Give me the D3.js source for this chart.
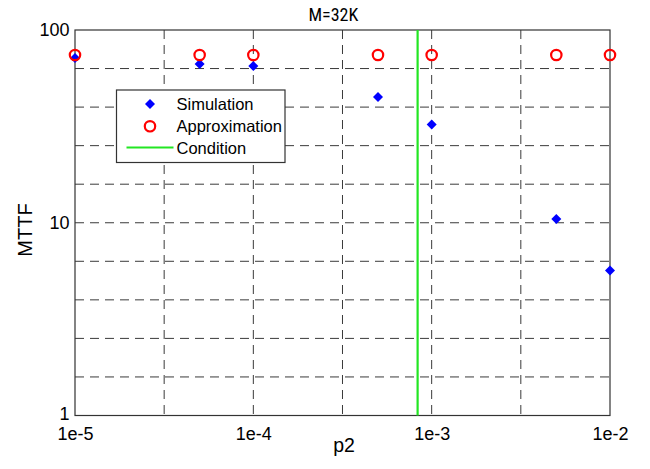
<!DOCTYPE html>
<html>
<head>
<meta charset="utf-8">
<script src="https://cdn.jsdelivr.net/npm/d3@7"></script>
<style>
    body { margin: 0; background: #fff; }
    text { font-family: "Liberation Sans", Arial, sans-serif; fill: #000; }
</style>
</head>
<body>
<script>
//chart data
var p2 = [1e-5, 5e-5, 1e-4, 5e-4, 1e-3, 5e-3, 1e-2];
var simulation = [71.5, 66.6, 65.0, 44.9, 32.3, 10.45, 5.66];
var approximation = [74.2, 74.2, 74.2, 74.2, 74.2, 74.2, 74.2];
var condition = 8.34e-4;

//ticks and grid
var xTickValues = [1e-5, 1e-4, 1e-3, 1e-2];
var xTickLabels = ["1e-5", "1e-4", "1e-3", "1e-2"];
var yTickValues = [1, 10, 100];
var yTickLabels = ["1", "10", "100"];
var xGrid = [3.162e-5, 1e-4, 3.162e-4, 1e-3, 3.162e-3];
var yGrid = [1.585, 2.512, 3.981, 6.310, 10, 15.85, 25.12, 39.81, 63.10];

var legendItems = ["Simulation", "Approximation", "Condition"];

window.onload = setChart();

function setChart(){

    var width = 650,
        height = 469;

    var left = 75, right = 610, top = 30, bottom = 415.5;

    var svg = d3.select("body")
        .append("svg")
        .attr("width", width)
        .attr("height", height);

    var x = d3.scaleLog()
        .domain([1e-5, 1e-2])
        .range([left, right]);

    var y = d3.scaleLog()
        .domain([1, 100])
        .range([bottom, top]);

    //dashed grid
    svg.selectAll(".vgrid")
        .data(xGrid)
        .enter()
        .append("line")
        .attr("class", "vgrid")
        .attr("x1", function(d){ return x(d); })
        .attr("x2", function(d){ return x(d); })
        .attr("y1", top)
        .attr("y2", bottom)
        .attr("stroke", "#3a3a3a")
        .attr("stroke-width", 1)
        .attr("stroke-dasharray", "9,6");

    svg.selectAll(".hgrid")
        .data(yGrid)
        .enter()
        .append("line")
        .attr("class", "hgrid")
        .attr("x1", left)
        .attr("x2", right)
        .attr("y1", function(d){ return y(d); })
        .attr("y2", function(d){ return y(d); })
        .attr("stroke", "#3a3a3a")
        .attr("stroke-width", 1)
        .attr("stroke-dasharray", "9,6");

    //axis box
    svg.append("rect")
        .attr("x", left)
        .attr("y", top)
        .attr("width", right - left)
        .attr("height", bottom - top)
        .attr("fill", "none")
        .attr("stroke", "#333")
        .attr("stroke-width", 1.2);

    //tick labels
    var xAxis = svg.append("g")
        .attr("transform", "translate(0," + (bottom + 1.5) + ")")
        .call(d3.axisBottom(x)
            .tickValues(xTickValues)
            .tickFormat(function(d, i){ return xTickLabels[i]; })
            .tickSize(0)
            .tickPadding(10.5));
    xAxis.select(".domain").remove();
    xAxis.selectAll("text")
        .style("font-family", "'Liberation Sans', Arial, sans-serif")
        .style("font-size", "18px")
        .attr("fill", "#000");

    var yAxis = svg.append("g")
        .attr("transform", "translate(" + left + ",0)")
        .call(d3.axisLeft(y)
            .tickValues(yTickValues)
            .tickFormat(function(d, i){ return yTickLabels[i]; })
            .tickSize(0)
            .tickPadding(5.5));
    yAxis.select(".domain").remove();
    yAxis.selectAll("text")
        .style("font-family", "'Liberation Sans', Arial, sans-serif")
        .style("font-size", "18px")
        .attr("fill", "#000")
        .attr("y", function(d){ return d === 1 ? -2 : 0; });

    //axis titles
    svg.append("text")
        .attr("x", 344)
        .attr("y", 452)
        .attr("text-anchor", "middle")
        .style("font-size", "19.5px")
        .text("p2");

    svg.append("text")
        .attr("transform", "translate(31.5,230) rotate(-90)")
        .attr("text-anchor", "middle")
        .style("font-size", "20px")
        .text("MTTF");

    //title is drawn condensed in the figure
    svg.append("text")
        .attr("x", 333.4)
        .attr("y", 20.7)
        .attr("text-anchor", "middle")
        .style("font-family", "'Roboto Condensed', 'Arial Narrow', 'Liberation Sans', sans-serif")
        .style("font-size", "18px")
        .text("M=32K");

    //simulation diamonds
    var diamond = "M0,-5L5,0L0,5L-5,0Z";
    svg.selectAll(".sim")
        .data(p2)
        .enter()
        .append("path")
        .attr("class", "sim")
        .attr("d", diamond)
        .attr("transform", function(d, i){
            return "translate(" + x(d) + "," + y(simulation[i]) + ")";
        })
        .attr("fill", "#0000ff");

    //approximation circles
    svg.selectAll(".approx")
        .data(p2)
        .enter()
        .append("circle")
        .attr("class", "approx")
        .attr("cx", function(d){ return x(d); })
        .attr("cy", function(d, i){ return y(approximation[i]); })
        .attr("r", 5.2)
        .attr("fill", "none")
        .attr("stroke", "#ff0000")
        .attr("stroke-width", 2.2);

    //condition line
    svg.append("line")
        .attr("x1", x(condition))
        .attr("x2", x(condition))
        .attr("y1", top)
        .attr("y2", bottom)
        .attr("stroke", "#22e622")
        .attr("stroke-width", 2.2);

    //legend
    var legend = svg.append("g");
    legend.append("rect")
        .attr("x", 116.5)
        .attr("y", 90)
        .attr("width", 168.5)
        .attr("height", 72.5)
        .attr("fill", "#fff")
        .attr("stroke", "#333")
        .attr("stroke-width", 1.2);

    var rowY = [104, 126.3, 147.5];
    legend.append("path")
        .attr("d", diamond)
        .attr("transform", "translate(150," + rowY[0] + ")")
        .attr("fill", "#0000ff");
    legend.append("circle")
        .attr("cx", 150)
        .attr("cy", rowY[1])
        .attr("r", 5.2)
        .attr("fill", "none")
        .attr("stroke", "#ff0000")
        .attr("stroke-width", 2.2);
    legend.append("line")
        .attr("x1", 126.5)
        .attr("x2", 173.5)
        .attr("y1", rowY[2])
        .attr("y2", rowY[2])
        .attr("stroke", "#22e622")
        .attr("stroke-width", 2.2);

    legend.selectAll(".ltext")
        .data(legendItems)
        .enter()
        .append("text")
        .attr("class", "ltext")
        .attr("x", 176.5)
        .attr("y", function(d, i){ return rowY[i] + 6; })
        .style("font-size", "16.5px")
        .text(function(d){ return d; });
};
</script>
</body>
</html>
